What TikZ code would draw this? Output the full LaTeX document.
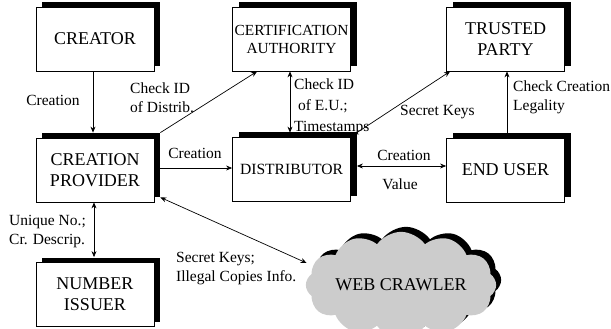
\documentclass[tikz,border=0pt]{standalone}
\usepackage{fontspec}
\setmainfont{Liberation Serif}
\usetikzlibrary{shadows,shapes.symbols,calc,arrows.meta}
\begin{document}
\begin{tikzpicture}[x=1pt,y=-1pt,
 box/.style={draw, line width=0.8pt, fill=white, minimum width=118pt, minimum height=64pt, inner sep=0pt, align=center, font=\fontsize{18}{21}\selectfont, drop shadow={shadow xshift=6pt, shadow yshift=5pt, fill=black, opacity=1}},
 lbl/.style={font=\fontsize{15.5}{19}\selectfont, inner sep=0pt, align=left},
 tip/.tip={Stealth[length=6pt,width=5pt]},
 arr/.style={line width=0.7pt, -tip},
 darr/.style={line width=0.7pt, tip-tip}]
\useasboundingbox (0,0) rectangle (611,329);
\node[box, font=\fontsize{15.4}{18}\selectfont] (ca) at (291.5,39) {CERTIFICATION\\AUTHORITY};
\node[box] (creator) at (95,39) {CREATOR};
\node[box] (tp) at (505.5,39) {TRUSTED\\PARTY};
\node[box] (cp) at (95,170) {CREATION\\PROVIDER};
\node[box, font=\fontsize{15.6}{18}\selectfont] (dist) at (291.5,169) {DISTRIBUTOR};
\node[box] (eu) at (505.5,170) {END USER};
\node[box] (ni) at (95,294.5) {NUMBER\\ISSUER};
\node[cloud, cloud puffs=12, cloud puff arc=110, aspect=2.2, minimum width=188pt, minimum height=86pt, inner sep=0pt, draw=none, fill=black!20, font=\fontsize{18}{21}\selectfont, drop shadow={shadow xshift=5pt, shadow yshift=5pt, fill=black, opacity=1}] (web) at (401,285) {WEB CRAWLER};

\draw[arr] ($(creator.south)+(-2,0)$) -- ($(cp.north)+(-2,-5)$);
\draw[arr] ($(cp.north east)+(6,-5)$) -- ($(ca.south west)+(25,0)$);
\draw[darr] ($(ca.south)+(-1.5,0)$) -- ($(dist.north)+(-1.5,-4)$);
\draw[arr] ($(dist.north east)+(6,-4)$) -- ($(tp.south west)+(4,0)$);
\draw[arr] ($(eu.north)+(1.5,-5)$) -- ($(tp.south)+(1.5,0)$);
\draw[arr] ($(cp.east)+(6,-2)$) -- ($(dist.west)+(0,-1)$);
\draw[darr] ($(dist.east)+(6,-3)$) -- ($(eu.west)+(0,-4)$);
\draw[darr] ($(cp.south)+(-1,0)$) -- ($(ni.north)+(-1,-5)$);
\draw[darr] ($(cp.south east)+(6,-5)$) -- ($(web.west)+(1,-22)$);

\node[lbl] (l1) at (53,100) {Creation};
\node[lbl, anchor=west] (l2) at (130,97.5) {Check ID\\of Distrib.};
\node[lbl, anchor=west, font=\fontsize{15.5}{21}\selectfont] (l3) at (294,107) {Check ID\\\hspace*{4pt}of E.U.;\\Timestamps};
\node[lbl, anchor=west] (l4) at (400,112) {Secret Keys};
\node[lbl, anchor=west] (l5) at (513,97.5) {Check Creation\\Legality};
\node[lbl] (l6) at (195,153) {Creation};
\node[lbl] (l7) at (404,155) {Creation};
\node[lbl] (l8) at (400,184) {Value};
\node[lbl, anchor=west] (l9) at (9,231.5) {Unique No.;\\Cr. Descrip.};
\node[lbl, anchor=west] (l10) at (176,269) {Secret Keys;\\Illegal Copies Info.};
\end{tikzpicture}
\end{document}
